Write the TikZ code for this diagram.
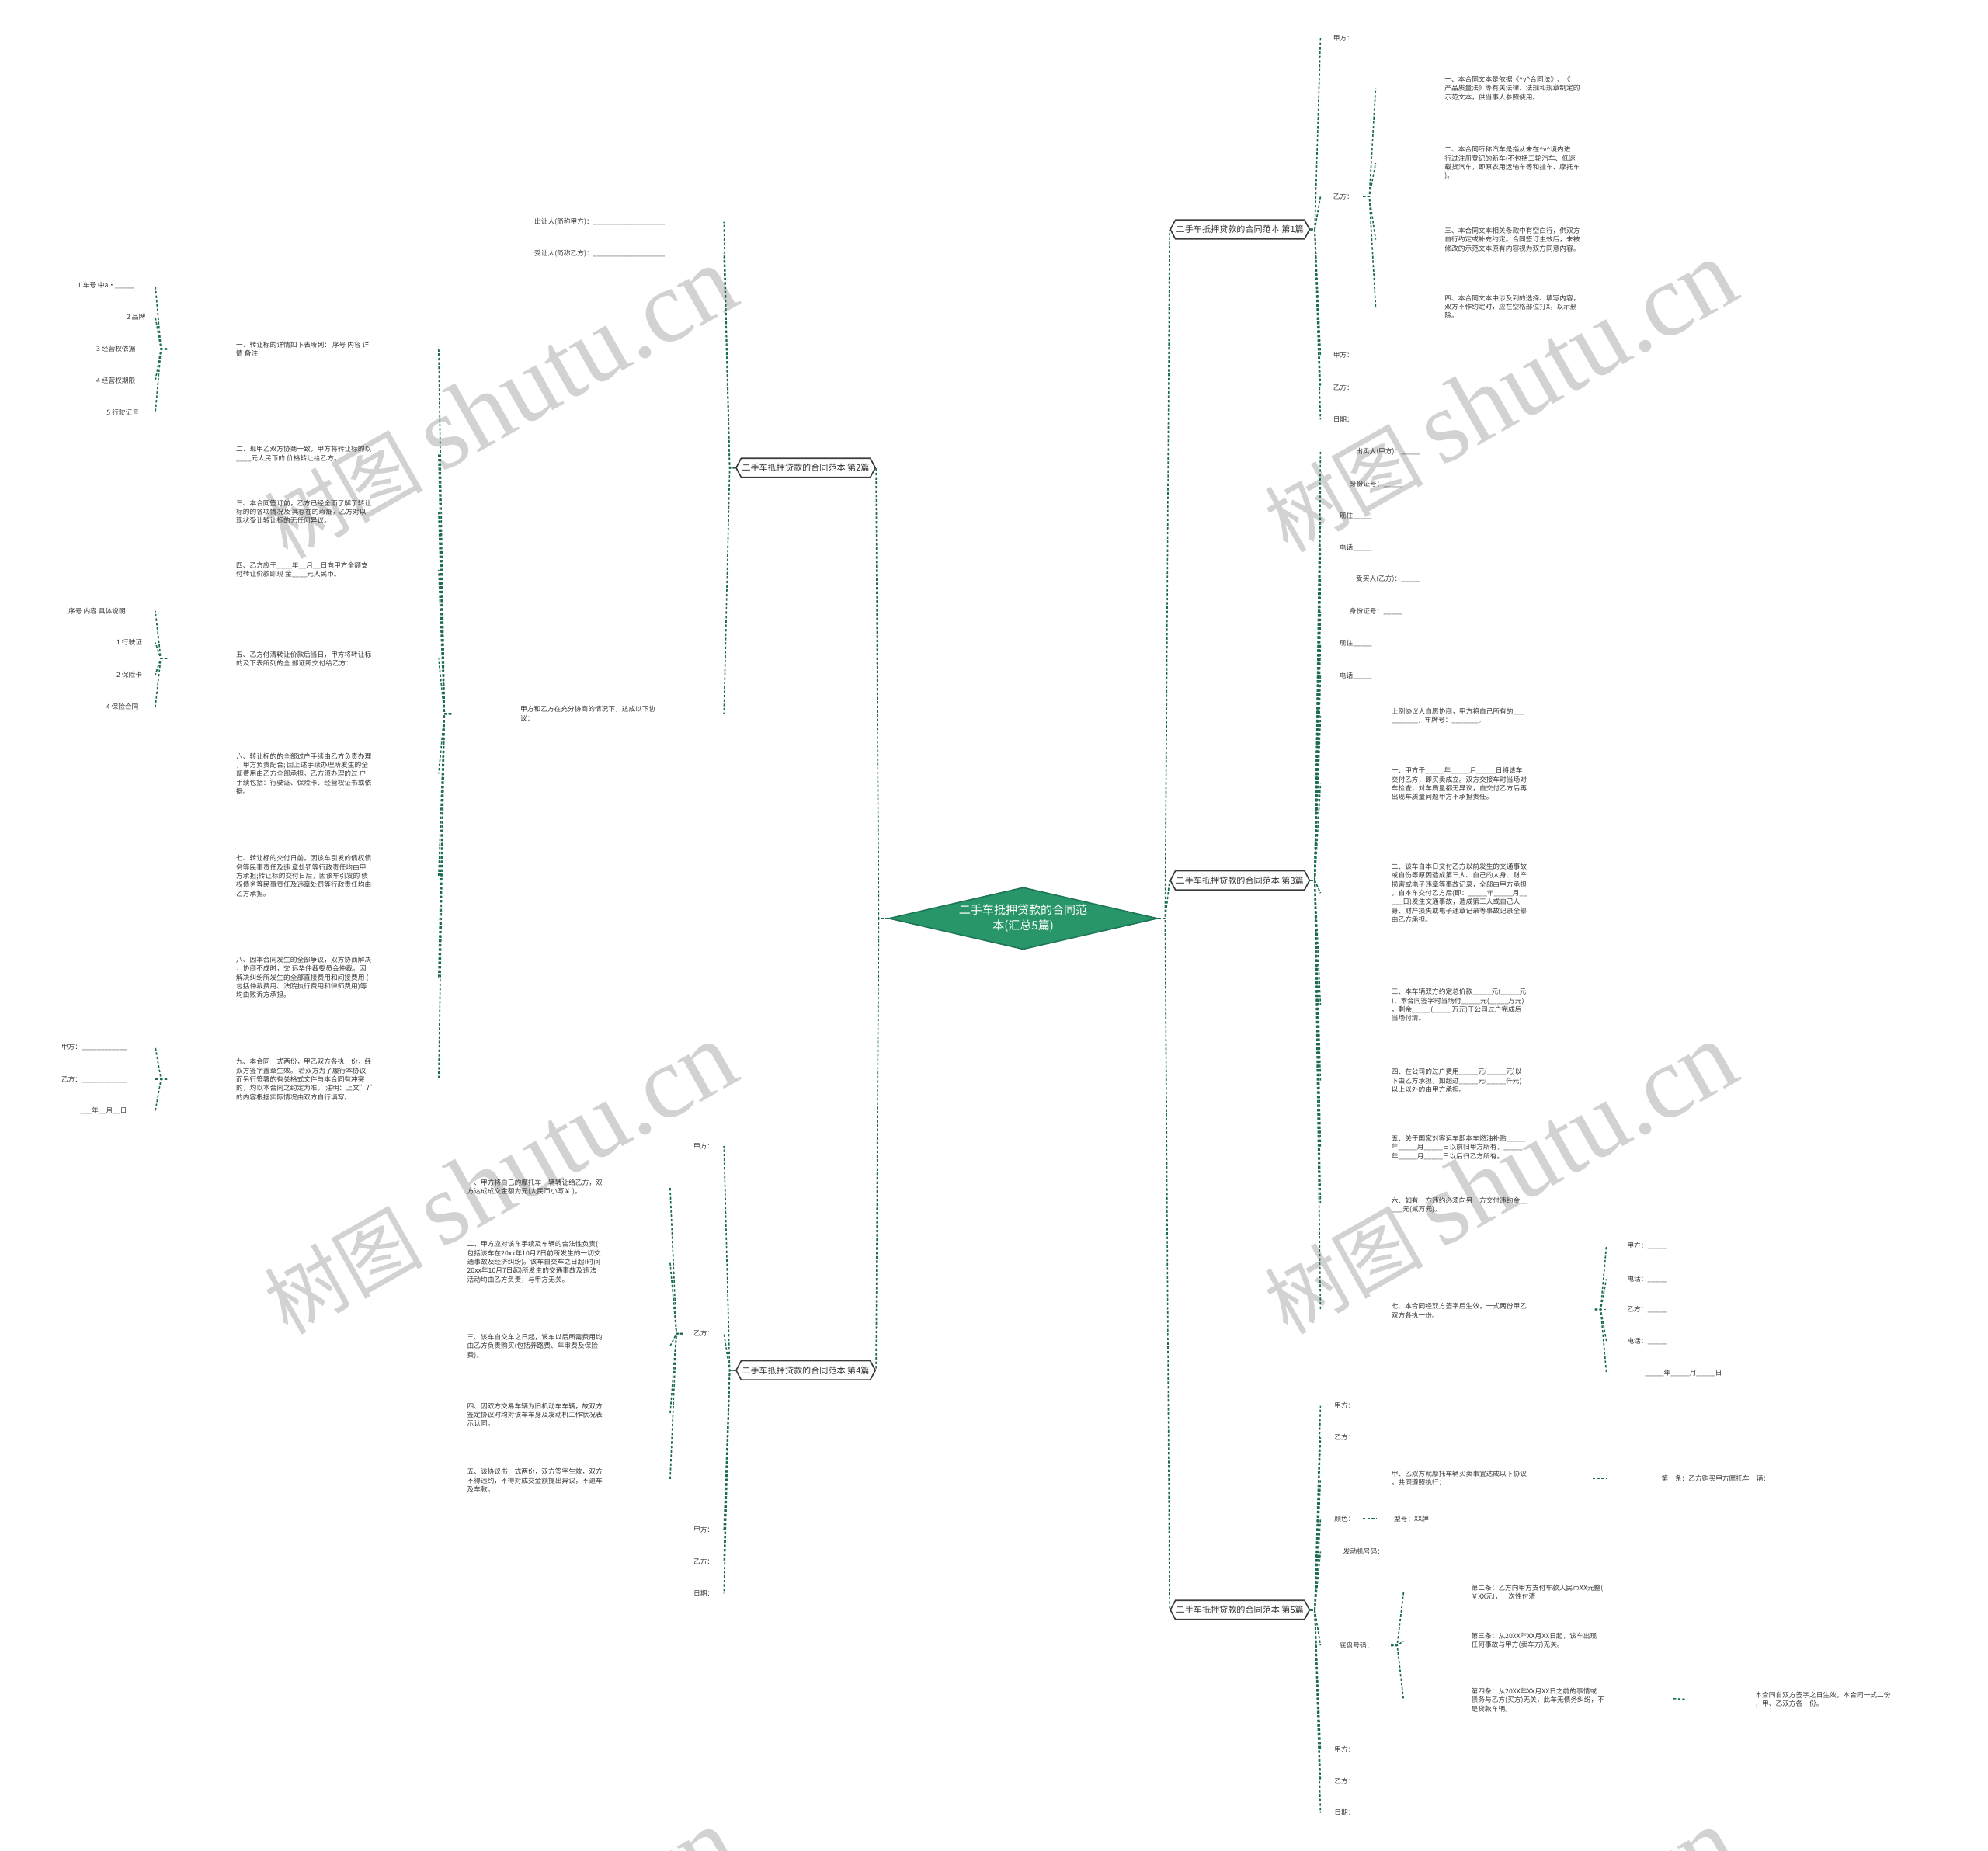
\documentclass[tikz,border=0pt]{standalone}
\usepackage{fontspec}
\setmainfont{Noto Sans CJK SC}
\newfontfamily\wmlatin{Liberation Serif}
\usetikzlibrary{shapes.geometric,shapes.symbols}

\definecolor{rootgreen}{RGB}{40,150,104}
\definecolor{rootedge}{RGB}{30,118,88}
\definecolor{linkgreen}{RGB}{28,108,78}
\definecolor{txtgray}{RGB}{51,51,51}
\definecolor{edgegray}{RGB}{60,60,60}
\definecolor{wmgray}{RGB}{210,210,210}

\tikzset{every picture/.style={line width=0.75pt}}
\tikzset{
  root/.style={diamond, aspect=4.33, fill=rootgreen, draw=rootedge, line width=0.75pt,
    text=white, inner sep=0pt, minimum width=159pt, minimum height=36.75pt,
    align=center, font=\fontsize{6.9}{9.2}\selectfont},
  topic/.style={signal, signal to=west and east, signal pointer angle=124,
    draw=edgegray, fill=white, line width=0.75pt, inner xsep=0.5pt, inner ysep=0pt,
    minimum height=11.25pt, text=txtgray, font=\fontsize{5.1}{6}\selectfont},
  leaf/.style={anchor=west, inner sep=0pt, align=left, text=txtgray,
    font=\fontsize{4}{5.2}\selectfont},
  link/.style={draw=linkgreen, line width=0.75pt, dash pattern=on 1.5pt off 1.1pt},
  wmark/.style={text=wmgray, rotate=29.5, inner sep=0pt, font=\fontsize{47}{47}\selectfont}
}

\begin{document}
\begin{tikzpicture}[x=0.75pt,y=0.75pt,yscale=-1,xscale=1]
\useasboundingbox (0,0) rectangle (1568,1460);

% watermark
\begin{scope}
\clip (0,0) rectangle (1568,1460);
\foreach \wx/\wy in {394/318,1183/313,394/930,1183/930,394/1550,1183/1550}
  \node[wmark] at (\wx,\wy) {树图 {\wmlatin\fontsize{61}{61}\selectfont shutu.cn}};
\end{scope}

% Root
\node[root] (root) at (807,724.5) {二手车抵押贷款的合同范\\本(汇总5篇)};

% Topics
\node[topic] (b1) at (978,181) {二手车抵押贷款的合同范本 第1篇};
\node[topic] (b2) at (635.5,369) {二手车抵押贷款的合同范本 第2篇};
\node[topic] (b3) at (978,694.5) {二手车抵押贷款的合同范本 第3篇};
\node[topic] (b4) at (635.5,1081) {二手车抵押贷款的合同范本 第4篇};
\node[topic] (b5) at (978,1270) {二手车抵押贷款的合同范本 第5篇};

% junctions
\coordinate (j0l) at (693,724.5);
\coordinate (j0r) at (919,724.5);

%Straight Lines
\draw[link] (root.west) -- (j0l) -- (b2.east);
\draw[link] (root.west) -- (j0l) -- (b4.east);
\draw[link] (root.east) -- (j0r) -- (b1.west);
\draw[link] (root.east) -- (j0r) -- (b3.west);
\draw[link] (root.east) -- (j0r) -- (b5.west);

%%%%%%%% 第1篇
% Text Node
\node[leaf] (b1a) at (1051,30) {甲方：};
\node[leaf] (b1b) at (1051,155) {乙方：};
\node[leaf] (b1c) at (1051,280) {甲方：};
\node[leaf] (b1d) at (1051,305.6) {乙方：};
\node[leaf] (b1e) at (1051,331) {日期：};
\node[leaf] (b1b1) at (1139,69.6) {一、本合同文本是依据《\textasciicircum{}v\textasciicircum{}合同法》、《\\产品质量法》等有关法律、法规和规章制定的\\示范文本，供当事人参照使用。};
\node[leaf] (b1b2) at (1139,128.7) {二、本合同所称汽车是指从未在\textasciicircum{}v\textasciicircum{}境内进\\行过注册登记的新车(不包括三轮汽车、低速\\载货汽车，即原农用运输车等和挂车、摩托车\\)。};
\node[leaf] (b1b3) at (1139,189) {三、本合同文本相关条款中有空白行，供双方\\自行约定或补充约定。合同签订生效后，未被\\修改的示范文本原有内容视为双方同意内容。};
\node[leaf] (b1b4) at (1139,242) {四、本合同文本中涉及到的选择、填写内容，\\双方不作约定时，应在空格部位打X，以示删\\除。};

\coordinate (jb1) at (1037,181);
\coordinate (eb1) at (1041.5,181);
\foreach \c in {b1a,b1b,b1c,b1d,b1e}
  \draw[link] (b1.east) -- (jb1) -- (\c.west -| eb1);
\coordinate (s1y) at (1075,155);
\coordinate (j1y) at (1080,155);
\coordinate (e1y) at (1085,155);
\foreach \c in {b1b1,b1b2,b1b3,b1b4}
  \draw[link] (s1y) -- (j1y) -- (\c.west -| e1y);

%%%%%%%% 第2篇
% Text Node
\node[leaf] (b2a) at (421,175) {出让人(简称甲方)：\_\_\_\_\_\_\_\_\_\_\_\_\_\_\_\_\_\_\_};
\node[leaf] (b2b) at (421,200) {受让人(简称乙方)：\_\_\_\_\_\_\_\_\_\_\_\_\_\_\_\_\_\_\_};
\node[leaf] (b2c) at (410,563) {甲方和乙方在充分协商的情况下，达成以下协\\议：};

\node[leaf] (p1) at (185.8,275.5) {一、转让标的详情如下表所列： 序号 内容 详\\情 备注};
\node[leaf] (p2) at (185.8,358) {二、现甲乙双方协商一致，甲方将转让标的以\\\_\_\_\_元人民币的 价格转让给乙方。};
\node[leaf] (p3) at (185.8,403.8) {三、本合同签订前，乙方已经全面了解了转让\\标的的各项情况及 其存在的瑕疵，乙方对以\\现状受让转让标的无任何异议。};
\node[leaf] (p4) at (185.8,449.5) {四、乙方应于\_\_\_\_年\_\_月\_\_日向甲方全额支\\付转让价款即现 金\_\_\_\_元人民币。};
\node[leaf] (p5) at (185.8,519.7) {五、乙方付清转让价款后当日，甲方将转让标\\的及下表所列的全 部证照交付给乙方：};
\node[leaf] (p6) at (185.8,610.3) {六、转让标的的全部过户手续由乙方负责办理\\，甲方负责配合; 因上述手续办理所发生的全\\部费用由乙方全部承担。乙方须办理的过 户\\手续包括：行驶证、保险卡、经营权证书或依\\据。};
\node[leaf] (p7) at (185.8,691) {七、转让标的交付日前，因该车引发的债权债\\务等民事责任及违 章处罚等行政责任均由甲\\方承担;转让标的交付日后，因该车引发的 债\\权债务等民事责任及违章处罚等行政责任均由\\乙方承担。};
\node[leaf] (p8) at (185.8,771) {八、因本合同发生的全部争议，双方协商解决\\，协商不成时，交 远华仲裁委员会仲裁。因\\解决纠纷所发生的全部直接费用和间接费用 (\\包括仲裁费用、法院执行费用和律师费用)等\\均由败诉方承担。};
\node[leaf] (p9) at (185.8,851.4) {九、本合同一式两份，甲乙双方各执一份，经\\双方签字盖章生效。 若双方为了履行本协议\\而另行签署的有关格式文件与本合同有冲突\\的，均以本合同之约定为准。 注明：上文"?"\\的内容根据实际情况由双方自行填写。};

\node[leaf] (p1a) at (60.6,225.2) {1 车号 中a·\_\_\_\_\_};
\node[leaf] (p1b) at (99.4,250) {2 品牌};
\node[leaf] (p1c) at (75.5,275.3) {3 经营权依据};
\node[leaf] (p1d) at (75.5,300.5) {4 经营权期限};
\node[leaf] (p1e) at (83.7,325.6) {5 行驶证号};

\node[leaf] (p5a) at (53.5,482) {序号 内容 具体说明};
\node[leaf] (p5b) at (91.5,506.9) {1 行驶证};
\node[leaf] (p5c) at (91.5,532.3) {2 保险卡};
\node[leaf] (p5d) at (83.3,557.2) {4 保险合同};

\node[leaf] (p9a) at (47.9,826) {甲方：\_\_\_\_\_\_\_\_\_\_\_\_};
\node[leaf] (p9b) at (47.9,851.4) {乙方：\_\_\_\_\_\_\_\_\_\_\_\_};
\node[leaf] (p9c) at (62.9,876.3) {\_\_\_年\_\_月\_\_日};

\coordinate (jb2) at (575.5,369);
\coordinate (eb2) at (571,369);
\foreach \c in {b2a,b2b,b2c}
  \draw[link] (b2.west) -- (jb2) -- (\c.east -| eb2);
\coordinate (sp) at (356,563);
\coordinate (jp) at (350.5,563);
\coordinate (ep) at (346,563);
\foreach \c in {p1,p2,p3,p4,p5,p6,p7,p8,p9}
  \draw[link] (sp) -- (jp) -- (\c.east -| ep);
\coordinate (s21) at (131.7,275.3);
\coordinate (j21) at (127,275.3);
\coordinate (e21) at (122.5,275.3);
\foreach \c in {p1a,p1b,p1c,p1d,p1e}
  \draw[link] (s21) -- (j21) -- (\c.east -| e21);
\coordinate (s25) at (131.7,519.4);
\coordinate (j25) at (126.8,519.4);
\coordinate (e25) at (122.5,519.4);
\foreach \c in {p5a,p5b,p5c,p5d}
  \draw[link] (s25) -- (j25) -- (\c.east -| e25);
\coordinate (s29) at (131.7,851.4);
\coordinate (j29) at (127,851.4);
\coordinate (e29) at (122.5,851.4);
\foreach \c in {p9a,p9b,p9c}
  \draw[link] (s29) -- (j29) -- (\c.east -| e29);

%%%%%%%% 第3篇
% Text Node
\node[leaf] (b3a) at (1069,356) {出卖人(甲方)：\_\_\_\_\_};
\node[leaf] (b3b) at (1064,381.6) {身份证号：\_\_\_\_\_};
\node[leaf] (b3c) at (1056,407) {现住\_\_\_\_\_};
\node[leaf] (b3d) at (1056,432) {电话\_\_\_\_\_};
\node[leaf] (b3e) at (1069,457) {受买人(乙方)：\_\_\_\_\_};
\node[leaf] (b3f) at (1064,482.6) {身份证号：\_\_\_\_\_};
\node[leaf] (b3g) at (1056,507.3) {现住\_\_\_\_\_};
\node[leaf] (b3h) at (1056,533) {电话\_\_\_\_\_};
\node[leaf] (b3i) at (1097,564.8) {上例协议人自愿协商，甲方将自己所有的\_\_\_\\\_\_\_\_\_\_\_，车牌号：\_\_\_\_\_\_\_。};
\node[leaf] (b3j) at (1097,618.3) {一、甲方于\_\_\_\_\_年\_\_\_\_\_月\_\_\_\_\_日将该车\\交付乙方，即买卖成立。双方交接车时当场对\\车检查，对车质量都无异议，自交付乙方后再\\出现车质量问题甲方不承担责任。};
\node[leaf] (b3k) at (1097,704.5) {二、该车自本日交付乙方以前发生的交通事故\\或自伤等原因造成第三人、自己的人身、财产\\损害或电子违章等事故记录，全部由甲方承担\\，自本车交付乙方后(即：\_\_\_\_\_年\_\_\_\_\_月\_\_\\\_\_\_日)发生交通事故，造成第三人或自己人\\身、财产损失或电子违章记录等事故记录全部\\由乙方承担。};
\node[leaf] (b3l) at (1097,792.8) {三、本车辆双方约定总价款\_\_\_\_\_元(\_\_\_\_\_元\\)，本合同签字时当场付\_\_\_\_\_元(\_\_\_\_\_万元)\\，剩余\_\_\_\_\_(\_\_\_\_\_万元)于公司过户完成后\\当场付清。};
\node[leaf] (b3m) at (1097,852.5) {四、在公司的过户费用\_\_\_\_\_元(\_\_\_\_\_元)以\\下由乙方承担，如超过\_\_\_\_\_元(\_\_\_\_\_仟元)\\以上以外的由甲方承担。};
\node[leaf] (b3n) at (1097,905.2) {五、关于国家对客运车即本车燃油补贴\_\_\_\_\_\\年\_\_\_\_\_月\_\_\_\_\_日以前归甲方所有，\_\_\_\_\_\\年\_\_\_\_\_月\_\_\_\_\_日以后归乙方所有。};
\node[leaf] (b3o) at (1097,950.5) {六、如有一方违约必须向另一方交付违约金\_\_\\\_\_\_元(贰万元)。};
\node[leaf] (b3p) at (1097,1034) {七、本合同经双方签字后生效，一式两份甲乙\\双方各执一份。};

\node[leaf] (b3p1) at (1283,983) {甲方：\_\_\_\_\_};
\node[leaf] (b3p2) at (1283,1009) {电话：\_\_\_\_\_};
\node[leaf] (b3p3) at (1283,1033) {乙方：\_\_\_\_\_};
\node[leaf] (b3p4) at (1283,1058) {电话：\_\_\_\_\_};
\node[leaf] (b3p5) at (1297,1083) {\_\_\_\_\_年\_\_\_\_\_月\_\_\_\_\_日};

\coordinate (jb3) at (1037,694.5);
\coordinate (eb3) at (1041.5,694.5);
\foreach \c in {b3a,b3b,b3c,b3d,b3e,b3f,b3g,b3h,b3i,b3j,b3k,b3l,b3m,b3n,b3o,b3p}
  \draw[link] (b3.east) -- (jb3) -- (\c.west -| eb3);
\coordinate (s37) at (1258,1033);
\coordinate (j37) at (1262.5,1033);
\coordinate (e37) at (1267,1033);
\foreach \c in {b3p1,b3p2,b3p3,b3p4,b3p5}
  \draw[link] (s37) -- (j37) -- (\c.west -| e37);

%%%%%%%% 第4篇
% Text Node
\node[leaf] (b4a) at (546.5,904) {甲方：};
\node[leaf] (b4b) at (546.5,1052) {乙方：};
\node[leaf] (b4c) at (546.5,1207) {甲方：};
\node[leaf] (b4d) at (546.5,1232) {乙方：};
\node[leaf] (b4e) at (546.5,1257) {日期：};
\node[leaf] (b4b1) at (368,936.4) {一、甲方将自己的摩托车一辆转让给乙方，双\\方达成成交金额为元(人民币小写￥ )。};
\node[leaf] (b4b2) at (368,995.5) {二、甲方应对该车手续及车辆的合法性负责(\\包括该车在20xx年10月7日前所发生的一切交\\通事故及经济纠纷)。该车自交车之日起(时间\\20xx年10月7日起)所发生的交通事故及违法\\活动均由乙方负责，与甲方无关。};
\node[leaf] (b4b3) at (368,1062) {三、该车自交车之日起，该车以后所需费用均\\由乙方负责购买(包括养路费、年审费及保险\\费)。};
\node[leaf] (b4b4) at (368,1116) {四、因双方交易车辆为旧机动车车辆，故双方\\签定协议时均对该车车身及发动机工作状况表\\示认同。};
\node[leaf] (b4b5) at (368,1168) {五、该协议书一式两份，双方签字生效，双方\\不得违约，不得对成交金额提出异议，不退车\\及车款。};

\coordinate (jb4) at (575.5,1081);
\coordinate (eb4) at (571,1081);
\foreach \c in {b4a,b4b,b4c,b4d,b4e}
  \draw[link] (b4.west) -- (jb4) -- (\c.east -| eb4);
\coordinate (s4y) at (538.5,1052);
\coordinate (j4y) at (533.5,1052);
\coordinate (e4y) at (528.5,1052);
\foreach \c in {b4b1,b4b2,b4b3,b4b4,b4b5}
  \draw[link] (s4y) -- (j4y) -- (\c.east -| e4y);

%%%%%%%% 第5篇
% Text Node
\node[leaf] (b5a) at (1052,1109) {甲方：};
\node[leaf] (b5b) at (1052,1134) {乙方：};
\node[leaf] (b5c) at (1097,1166) {甲、乙双方就摩托车辆买卖事宜达成以下协议\\，共同遵照执行：};
\node[leaf] (b5d) at (1052,1198) {颜色：};
\node[leaf] (b5e) at (1059,1224) {发动机号码：};
\node[leaf] (b5f) at (1056,1298) {底盘号码：};
\node[leaf] (b5g) at (1052,1380) {甲方：};
\node[leaf] (b5h) at (1052,1405) {乙方：};
\node[leaf] (b5i) at (1052,1430) {日期：};
\node[leaf] (b5c1) at (1310,1166) {第一条：乙方购买甲方摩托车一辆：};
\node[leaf] (b5d1) at (1099,1198) {型号：XX牌};
\node[leaf] (b5f1) at (1160,1256.3) {第二条：乙方向甲方支付车款人民币XX元整(\\￥XX元)，一次性付清};
\node[leaf] (b5f2) at (1160,1294.5) {第三条：从20XX年XX月XX日起，该车出现\\任何事故与甲方(卖车方)无关。};
\node[leaf] (b5f3) at (1160,1341) {第四条：从20XX年XX月XX日之前的事情或\\债务与乙方(买方)无关，此车无债务纠纷，不\\是贷款车辆。};
\node[leaf] (b5f3a) at (1384,1340.5) {本合同自双方签字之日生效，本合同一式二份\\，甲、乙双方各一份。};

\coordinate (jb5) at (1037,1270);
\coordinate (eb5) at (1041.5,1270);
\foreach \c in {b5a,b5b,b5c,b5d,b5e,b5f,b5g,b5h,b5i}
  \draw[link] (b5.east) -- (jb5) -- (\c.west -| eb5);
\coordinate (s5c) at (1256,1166);
\coordinate (e5c) at (1267,1166);
\draw[link] (s5c) -- (b5c1.west -| e5c);
\coordinate (s5d) at (1075,1198);
\coordinate (e5d) at (1086,1198);
\draw[link] (s5d) -- (b5d1.west -| e5d);
\coordinate (s5f) at (1097,1298);
\coordinate (j5f) at (1102,1298);
\coordinate (e5f) at (1107,1298);
\foreach \c in {b5f1,b5f2,b5f3}
  \draw[link] (s5f) -- (j5f) -- (\c.west -| e5f);
\coordinate (s54) at (1320,1340);
\coordinate (e54) at (1331,1340);
\draw[link] (s54) -- (b5f3a.west -| e54);

\end{tikzpicture}
\end{document}
